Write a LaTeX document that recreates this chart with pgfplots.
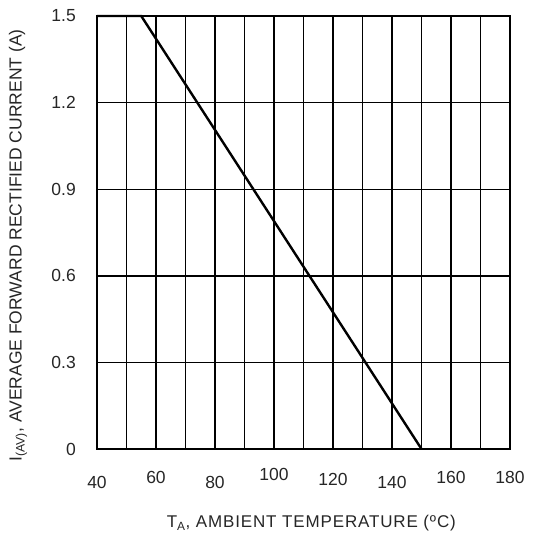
\documentclass[border=0pt]{standalone}
\usepackage{fontspec}
\setmainfont{Liberation Sans}
\usepackage{pgfplots}
\pgfplotsset{compat=1.18}
\newcommand{\rb}[2]{\raisebox{#1}{#2}}
\begin{document}
\begin{tikzpicture}
\begin{axis}[
  scale only axis,
  width=413pt, height=433pt,
  xmin=40, xmax=180, ymin=0, ymax=1.5,
  xtick={40,60,...,180},
  xticklabels={\rb{-3pt}{40},\rb{2pt}{60},\rb{-3pt}{80},\rb{5pt}{100},\rb{0pt}{120},\rb{-3pt}{140},\rb{2pt}{160},\rb{1.5pt}{180}},
  minor xtick={50,70,...,170},
  ytick={0,0.3,0.6,0.9,1.2,1.5},
  yticklabels={0,0.3,0.6,0.9,1.2,1.5},
  xmajorgrids, ymajorgrids, xminorgrids,
  grid style={black, line width=1.4pt},
  minor grid style={black, line width=1.4pt},
  axis line style={black, line width=1.4pt},
  major tick length=0pt, minor tick length=0pt,
  tick label style={font=\fontsize{17.5}{19}\selectfont, text=black!85, inner sep=0pt},
  xticklabel style={anchor=base, yshift=-36.3pt},
  yticklabel style={anchor=east, xshift=-21pt},
  xlabel={T\textsubscript{A}, AMBIENT TEMPERATURE (ºC)},
  ylabel={I\textsubscript{(AV)}, AVERAGE FORWARD RECTIFIED CURRENT (A)},
  xlabel style={font=\fontsize{17}{19}\selectfont\addfontfeature{LetterSpace=5}, text=black!85,
    at={(axis description cs:0.519,-0.182)}, anchor=base, inner sep=0pt},
  ylabel style={font=\fontsize{17.5}{19}\selectfont, text=black!85,
    at={(axis description cs:-0.191,0.47)}, anchor=center, inner sep=0pt},
  clip=false,
]
\addplot[black, line width=2.4pt] coordinates {(40,1.5) (55,1.5) (150,0)};
\end{axis}
\pgfresetboundingbox
\path ([shift={(-97pt,-87pt)}]current axis.south west) rectangle ([shift={(32pt,16pt)}]current axis.north east);
\end{tikzpicture}
\end{document}
